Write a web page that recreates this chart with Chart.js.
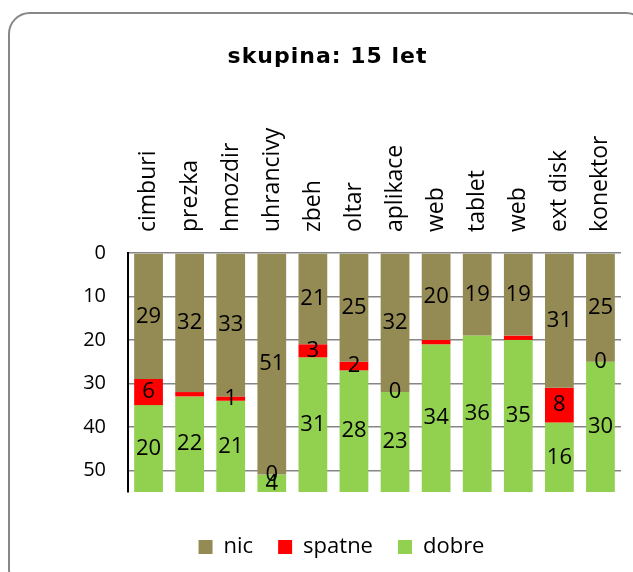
<!DOCTYPE html>
<html>
<head>
<meta charset="utf-8">
<script src="https://cdn.jsdelivr.net/npm/chart.js@4.4.0/dist/chart.umd.min.js"></script>
<style>
  html, body { margin: 0; padding: 0; background: #fff; overflow: hidden; }
  #frame {
    position: absolute; left: 8px; top: 12px; width: 640px; height: 580px;
    border: 2px solid #878787; border-radius: 22px; box-sizing: border-box;
  }
  #wrap { position: absolute; left: 0; top: 0; width: 633px; height: 572px; }
</style>
</head>
<body>
<div id="frame"></div>
<div id="wrap"><canvas id="c" width="633" height="572"></canvas></div>
<script>
/* skupina: 15 let — skládaný sloupcový graf, osa y obrácená */

const categories = ["cimburi", "prezka", "hmozdir", "uhrancivy", "zbeh", "oltar",
  "aplikace", "web", "tablet", "web", "ext disk", "konektor"];
const nic = [29, 32, 33, 51, 21, 25, 32, 20, 19, 19, 31, 25];
const spatne = [6, 1, 1, 0, 3, 2, 0, 1, 0, 1, 8, 0];
const dobre = [20, 22, 21, 4, 31, 28, 23, 34, 36, 35, 16, 30];
// popisky "spatne", které v originálu chybí
const spatneNoLabel = [1, 7, 8, 9];

const COLORS = { nic: "#948A54", spatne: "#FF0000", dobre: "#92D050" };
const FONT = "'Open Sans', sans-serif";

const valueLabels = {
  id: "valueLabels",
  afterDatasetsDraw(chart) {
    const { ctx } = chart;
    ctx.save();
    ctx.font = "22px " + FONT;
    ctx.fillStyle = "#000";
    ctx.textAlign = "center";
    ctx.textBaseline = "middle";
    chart.data.datasets.forEach((ds, di) => {
      const meta = chart.getDatasetMeta(di);
      meta.data.forEach((bar, i) => {
        if (ds.noLabel && ds.noLabel.includes(i)) return;
        const { x, y, base } = bar.getProps(["x", "y", "base"], true);
        ctx.fillText(String(ds.data[i]), x, (y + base) / 2);
      });
    });
    ctx.restore();
  },
};

// nadpis je v originálu prostrkaný a trochu vlevo od středu legendy
const wideTitle = {
  id: "wideTitle",
  afterInit(chart) {
    const tb = chart.titleBlock;
    if (!tb) return;
    const draw = tb.draw.bind(tb);
    tb.draw = function () {
      const ctx = chart.ctx;
      ctx.save();
      ctx.letterSpacing = "1px";
      ctx.translate(-14, 0);
      draw();
      ctx.restore();
    };
  },
};

new Chart(document.getElementById("c"), {
  type: "bar",
  data: {
    labels: categories,
    datasets: [
      { label: "nic", data: nic, backgroundColor: COLORS.nic },
      { label: "spatne", data: spatne, backgroundColor: COLORS.spatne, noLabel: spatneNoLabel },
      { label: "dobre", data: dobre, backgroundColor: COLORS.dobre },
    ],
  },
  options: {
    responsive: false,
    animation: false,
    datasets: { bar: { barPercentage: 0.7, categoryPercentage: 1.0, borderWidth: 0 } },
    layout: { padding: { top: 10, left: 62, right: 12, bottom: 4 } },
    plugins: {
      tooltip: { enabled: false },
      title: {
        display: true,
        text: "skupina: 15 let",
        color: "#000",
        font: { family: "'DejaVu Sans', sans-serif", size: 22, weight: "bold" },
        padding: { top: 34, bottom: 10 },
      },
      legend: {
        position: "bottom",
        labels: {
          boxWidth: 14,
          boxHeight: 14,
          padding: 25,
          color: "#000",
          font: { family: FONT, size: 22 },
        },
      },
    },
    scales: {
      x: {
        position: "top",
        stacked: true,
        grid: { display: false },
        border: { display: false },
        ticks: {
          autoSkip: false,
          minRotation: 90,
          maxRotation: 90,
          padding: 13,
          labelOffset: 28,
          color: "#000",
          font: { family: FONT, size: 23 },
        },
        afterFit(s) { s.height = 172.6; },
      },
      pad: {
        type: "category",
        position: "bottom",
        grid: { display: false },
        border: { display: false },
        ticks: { display: false },
        afterFit(s) { s.height = 19; },
      },
      y: {
        stacked: true,
        reverse: true,
        min: 0,
        max: 55,
        ticks: {
          stepSize: 10,
          includeBounds: false,
          padding: 22,
          color: "#000",
          font: { family: FONT, size: 20 },
        },
        grid: { color: "#868686", lineWidth: 1.5, drawTicks: false },
        border: { display: true, color: "#000", width: 2 },
        afterFit(s) { s.width = 66; },
      },
    },
  },
  plugins: [valueLabels, wideTitle],
});
</script>
</body>
</html>
